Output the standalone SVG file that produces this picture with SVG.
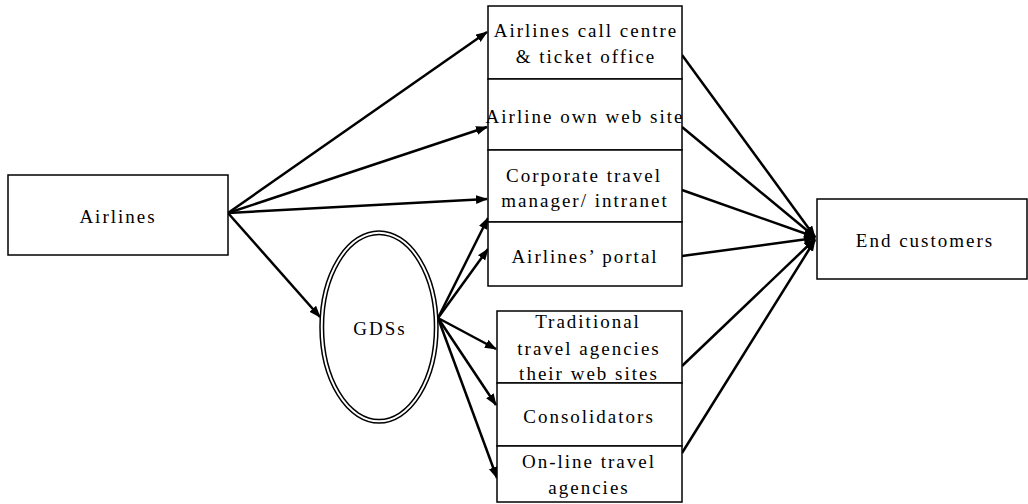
<svg xmlns="http://www.w3.org/2000/svg" width="1028" height="504" viewBox="0 0 1028 504">
<defs>
<style>
.box{fill:#fff;stroke:#000;stroke-width:1.5}
.t{font-family:"Liberation Serif","Times New Roman",serif;font-size:19px;letter-spacing:2px;text-anchor:middle;fill:#000}
.c{stroke:#000;stroke-width:2.5;fill:none;marker-end:url(#ah)}
</style>
<marker id="ah" markerUnits="userSpaceOnUse" markerWidth="12" markerHeight="10" refX="11" refY="4.5" orient="auto">
<path d="M0,0 L12,4.5 L0,9 Z" fill="#000"/>
</marker>
</defs>
<g id="connectors">
<line class="c" x1="228" y1="213" x2="487" y2="32"/>
<line class="c" x1="228" y1="213" x2="487" y2="127"/>
<line class="c" x1="228" y1="213" x2="487" y2="199"/>
<line class="c" x1="228" y1="213" x2="320" y2="317"/>
<line class="c" x1="438" y1="318" x2="488" y2="218"/>
<line class="c" x1="438" y1="318" x2="488" y2="249"/>
<line class="c" x1="438" y1="318" x2="496" y2="349"/>
<line class="c" x1="438" y1="318" x2="496" y2="405"/>
<line class="c" x1="438" y1="318" x2="497" y2="478"/>
<line class="c" x1="682" y1="55" x2="815" y2="237"/>
<line class="c" x1="682" y1="127" x2="815" y2="237"/>
<line class="c" x1="682" y1="190" x2="815" y2="237"/>
<line class="c" x1="682" y1="256" x2="815" y2="238"/>
<line class="c" x1="682" y1="366" x2="815" y2="239"/>
<line class="c" x1="682" y1="453" x2="815" y2="240"/>
</g>
<g id="airlines">
<rect class="box" x="8" y="175" width="220" height="80"/>
<text class="t" x="118" y="223">Airlines</text>
</g>
<g id="gds">
<ellipse cx="379" cy="327" rx="59" ry="96" fill="#fff" stroke="#000" stroke-width="1.5"/>
<ellipse cx="379" cy="327" rx="55.5" ry="92.5" fill="none" stroke="#000" stroke-width="1.5"/>
<text class="t" x="380" y="335">GDSs</text>
</g>
<g id="callcentre">
<rect class="box" x="488" y="6" width="194" height="73"/>
<text class="t" x="586" y="37">Airlines call centre</text>
<text class="t" x="586" y="63">&amp; ticket office</text>
</g>
<g id="website">
<rect class="box" x="488" y="79" width="194" height="71"/>
<text class="t" x="585" y="123">Airline own web site</text>
</g>
<g id="corporate">
<rect class="box" x="488" y="150" width="194" height="72"/>
<text class="t" x="584" y="182">Corporate travel</text>
<text class="t" x="585" y="207">manager/ intranet</text>
</g>
<g id="portal">
<rect class="box" x="488" y="222" width="194" height="64"/>
<text class="t" x="585" y="263">Airlines’ portal</text>
</g>
<g id="traditional">
<rect class="box" x="497" y="311" width="185" height="72"/>
<text class="t" x="588" y="328">Traditional</text>
<text class="t" x="589" y="355">travel agencies</text>
<text class="t" x="589" y="380">their web sites</text>
</g>
<g id="consolidators">
<rect class="box" x="497" y="383" width="185" height="63"/>
<text class="t" x="589" y="423">Consolidators</text>
</g>
<g id="online">
<rect class="box" x="497" y="446" width="185" height="56"/>
<text class="t" x="589" y="468">On-line travel</text>
<text class="t" x="589" y="494">agencies</text>
</g>
<g id="endcustomers">
<rect class="box" x="817" y="199" width="210" height="80"/>
<text class="t" x="925" y="247">End customers</text>
</g>
</svg>
